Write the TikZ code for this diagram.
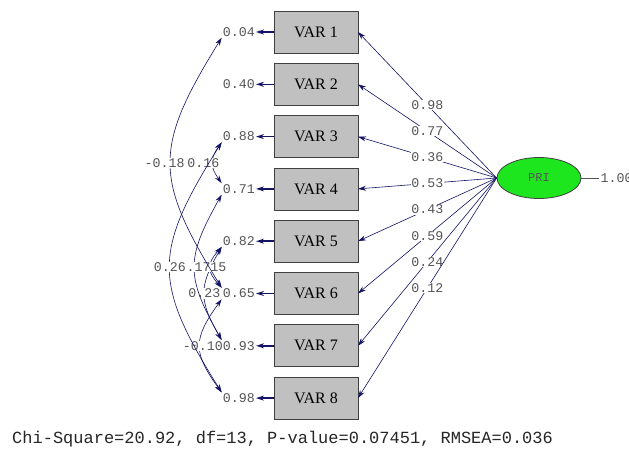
\documentclass[tikz,border=0pt]{standalone}
\usepackage{fontspec}
\setmainfont{Liberation Serif}
\setmonofont{Liberation Mono}
\usetikzlibrary{positioning,shapes.geometric,arrows.meta}
\definecolor{lisnavy}{RGB}{20,20,100}
\definecolor{boxgray}{RGB}{192,192,192}
\definecolor{edgegray}{RGB}{64,64,64}
\definecolor{txtgray}{RGB}{85,85,85}
\definecolor{latgreen}{RGB}{30,230,30}

\begin{document}
\begin{tikzpicture}[
  x=1pt, y=-1pt,
  node distance=10.3pt and 18pt,
  >={Stealth[length=8pt,width=5pt]},
  box/.style={draw=edgegray, line width=0.8pt, fill=boxgray, outer sep=0pt, inner sep=0pt, minimum width=84pt, minimum height=42pt, font=\fontsize{16}{16}\selectfont},
  err/.style={inner sep=1pt, text=txtgray, font=\ttfamily\fontsize{13.3}{13.3}\selectfont},
  lab/.style={err, fill=white, inner sep=0.5pt},
  latent/.style={ellipse, draw=edgegray, line width=0.8pt, fill=latgreen, inner sep=0pt, minimum width=84pt, minimum height=41pt, text=txtgray, font=\ttfamily\fontsize{12}{12}\selectfont},
  arrow/.style={->, lisnavy, line width=1.6pt},
  load/.style={->, lisnavy, line width=0.6pt},
  cov/.style={<->, lisnavy, line width=0.6pt}
]
\useasboundingbox[fill=white] (0,0) rectangle (629,450);

% Indicators
\node[box] (v1) at (316,32) {VAR 1};
\node[box, below=of v1] (v2) {VAR 2};
\node[box, below=of v2] (v3) {VAR 3};
\node[box, below=of v3] (v4) {VAR 4};
\node[box, below=of v4] (v5) {VAR 5};
\node[box, below=of v5] (v6) {VAR 6};
\node[box, below=of v6] (v7) {VAR 7};
\node[box, below=of v7] (v8) {VAR 8};

% Error variances
\node[err, left=of v1] (e1) {0.04};
\node[err, left=of v2] (e2) {0.40};
\node[err, left=of v3] (e3) {0.88};
\node[err, left=of v4] (e4) {0.71};
\node[err, left=of v5] (e5) {0.82};
\node[err, left=of v6] (e6) {0.65};
\node[err, left=of v7] (e7) {0.93};
\node[err, left=of v8] (e8) {0.98};

\draw[arrow] (v1) -- (e1);
\draw[arrow] (v2) -- (e2);
\draw[arrow] (v3) -- (e3);
\draw[arrow] (v4) -- (e4);
\draw[arrow] (v5) -- (e5);
\draw[arrow] (v6) -- (e6);
\draw[arrow] (v7) -- (e7);
\draw[arrow] (v8) -- (e8);

% Factor
\node[latent] (pri) at (539,178) {PRI};
\node[err, right=of pri] (privar) {1.00};
\draw[txtgray, line width=0.5pt] (pri) -- (privar);

% Loadings
\draw[load] (pri.west) -- node[lab] {0.98} (v1.east);
\draw[load] (pri.west) -- node[lab] {0.77} (v2.east);
\draw[load] (pri.west) -- node[lab] {0.36} (v3.east);
\draw[load] (pri.west) -- node[lab] {0.53} (v4.east);
\draw[load] (pri.west) -- node[lab] {0.43} (v5.east);
\draw[load] (pri.west) -- node[lab] {0.59} (v6.east);
\draw[load] (pri.west) -- node[lab] {0.24} (v7.east);
\draw[load] (pri.west) -- node[lab] {0.12} (v8.east);

% Error covariances
\draw[cov] (e6.south west) .. controls +(-29,40) and +(-29,-40) .. (e8.north west) node[lab, pos=0.5, xshift=3pt] {-0.10};
\draw[cov] (e5.south west) .. controls +(-23,40) and +(-23,-40) .. (e7.north west) node[lab, pos=0.5] {0.23};
\draw[cov] (e5.south west) .. controls +(-15,17) and +(-15,-17) .. (e6.north west) node[lab, pos=0.5] {0.15};
\draw[cov] (e4.south west) .. controls +(-36,64) and +(-36,-64) .. (e7.north west) node[lab, pos=0.5] {0.17};
\draw[cov] (e3.south west) .. controls +(-12,17) and +(-12,-17) .. (e4.north west) node[lab, pos=0.5, anchor=west, xshift=-26pt] {0.16};
\draw[cov] (e1.south west) .. controls +(-68,110) and +(-68,-110) .. (e6.north west) node[lab, pos=0.5, xshift=-6pt] {-0.18};
\draw[cov] (e3.south west) .. controls +(-69,110) and +(-69,-110) .. (e8.north west) node[lab, pos=0.5] {0.26};

% Fit
\node[err, text=black!85, anchor=west, font=\ttfamily\fontsize{17}{17}\selectfont] (fit) at (11,439) {Chi-Square=20.92, df=13, P-value=0.07451, RMSEA=0.036};

\end{tikzpicture}
\end{document}
